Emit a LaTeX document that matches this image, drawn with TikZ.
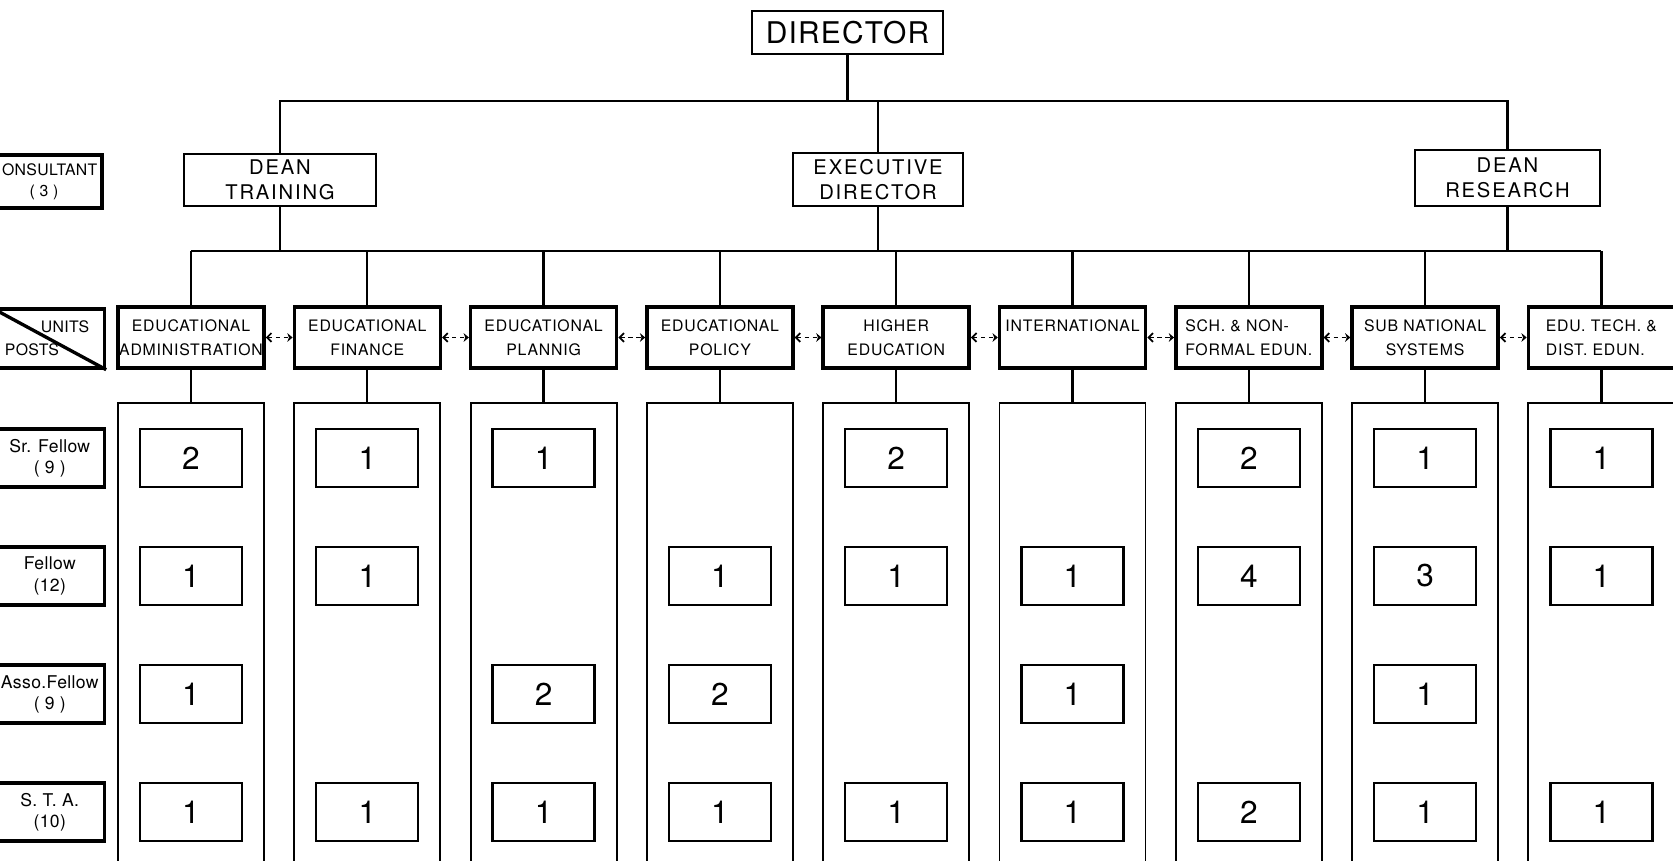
\documentclass[tikz,border=0pt]{standalone}
\usepackage{fontspec}
\setmainfont{TeX Gyre Heros}
\usepackage{tikz}
\usetikzlibrary{arrows.meta, positioning, calc}
\newfontfamily\dirface[LetterSpace=4]{TeX Gyre Heros}
\newfontfamily\headface[LetterSpace=9]{TeX Gyre Heros}
\newfontfamily\unitface[LetterSpace=5]{TeX Gyre Heros}
\newfontfamily\postface[LetterSpace=2]{TeX Gyre Heros}
\tikzset{
  dirbox/.style={rectangle, draw, line width=1.3pt, minimum width=3.82cm,
    minimum height=0.86cm, font=\dirface\fontsize{17}{19}\selectfont},
  headbox/.style={rectangle, draw, line width=1.3pt, align=center,
    inner sep=1pt, font=\headface\fontsize{11.5}{14}\selectfont},
  unitbox/.style={rectangle, draw, line width=2pt, minimum width=2.92cm,
    minimum height=1.22cm, inner xsep=0pt, align=center,
    font=\unitface\fontsize{9}{13.4}\selectfont},
  colbox/.style={rectangle, draw, line width=1.1pt, minimum width=2.92cm,
    minimum height=9.64cm},
  numbox/.style={rectangle, draw, line width=1.3pt, minimum width=2.04cm,
    minimum height=1.16cm, font=\fontsize{18}{18}\selectfont},
  postbox/.style={rectangle, draw, line width=1.9pt, minimum width=2.19cm,
    minimum height=1.16cm, inner xsep=0pt, align=center,
    font=\postface\fontsize{10}{12}\selectfont},
  link/.style={line width=1.3pt},
  sidearrow/.style={{Straight Barb[length=2.5pt,width=5pt]}-{Stealth[length=3pt,width=5pt]},
    dash pattern=on 2.5pt off 2pt, line width=1pt}
}

\begin{document}
\begin{tikzpicture}
  \useasboundingbox (0,0) rectangle (33.46,17.2);
  \clip (0,0) rectangle (33.46,17.2);

  % Director and the three heads
  \node[dirbox] (dir) at (16.95,16.55) {DIRECTOR};
  \node[headbox, minimum width=3.84cm, minimum height=1.04cm] (dtr) at (5.6,13.6) {DEAN\\TRAINING};
  \node[headbox, minimum width=3.4cm, minimum height=1.06cm] (exd) at (17.56,13.61) {EXECUTIVE\\DIRECTOR};
  \node[headbox, minimum width=3.7cm, minimum height=1.12cm] (drs) at (30.15,13.64) {DEAN\\RESEARCH};
  \node[postbox, minimum width=2.32cm, minimum height=1.06cm,
    font=\postface\fontsize{9}{12}\selectfont] (cons) at (0.88,13.57) {\phantom{C}ONSULTANT\\( 3 )};

  \coordinate (bar1) at (17.56,15.18);
  \coordinate (bar2) at (17.56,12.18);
  \draw[link] (dir.south) -- (dir.south |- bar1);
  \draw[link] (dtr.north) |- (drs.north |- bar1) -- (drs.north);
  \draw[link] (exd.north) -- (exd.north |- bar1);
  \draw[link] (dtr.south) -- (dtr.south |- bar2);
  \draw[link] (exd.south) -- (exd.south |- bar2);
  \draw[link] (drs.south) -- (drs.south |- bar2);

  % Units with their post columns
  \foreach \name/\al [count=\i] in {{EDUCATIONAL\\ADMINISTRATION}/center,
      {EDUCATIONAL\\FINANCE}/center, {EDUCATIONAL\\PLANNIG}/center,
      {EDUCATIONAL\\POLICY}/center, {HIGHER\\EDUCATION}/center,
      {INTERNATIONAL\\\mbox{}}/center, {SCH. \& NON-\\FORMAL EDUN.}/left,
      {SUB NATIONAL\\SYSTEMS}/center, {EDU. TECH. \&\\DIST. EDUN.}/left} {
    \node[unitbox, align=\al] (u\i) at ({3.82+3.526*(\i-1)},10.45) {\name};
    \node[colbox] (c\i) at ({3.82+3.526*(\i-1)},4.32) {};
    \draw[link] (u\i.south) -- (c\i.north);
    \draw[link] (u\i.north) -- (u\i.north |- bar2);
  }
  \draw[link] (u1.north |- bar2) -- (u9.north |- bar2);

  \foreach \i [evaluate=\i as \j using int(\i+1)] in {1,...,8}
    \draw[sidearrow] (u\i.east) -- (u\j.west);

  % Posts per unit
  \foreach \i/\r/\n in {1/1/2, 1/2/1, 1/3/1, 1/4/1, 2/1/1, 2/2/1, 2/4/1,
      3/1/1, 3/3/2, 3/4/1, 4/2/1, 4/3/2, 4/4/1, 5/1/2, 5/2/1, 5/4/1,
      6/2/1, 6/3/1, 6/4/1, 7/1/2, 7/2/4, 7/4/2, 8/1/1, 8/2/3, 8/3/1,
      8/4/1, 9/1/1, 9/2/1, 9/4/1}
    \node[numbox] (n\i-\r) at ({3.82+3.526*(\i-1)},{8.04-2.36*(\r-1)}) {\n};

  % Row labels
  \node[postbox, minimum width=2.24cm, minimum height=1.18cm] (up) at (0.97,10.43) {};
  \draw[line width=1.9pt] (up.north west) -- (up.south east);
  \node[font=\postface\fontsize{9}{11}\selectfont] (units) at (1.3,10.67) {UNITS};
  \node[font=\postface\fontsize{9}{11}\selectfont] (posts) at (0.64,10.21) {POSTS};
  \foreach \txt [count=\r] in {{Sr. Fellow\\( 9 )}, {Fellow\\(12)},
      {Asso.Fellow\\( 9 )}, {S. T. A.\\(10)}}
    \node[postbox] (p\r) at (0.995,{8.04-2.36*(\r-1)}) {\txt};
\end{tikzpicture}
\end{document}
